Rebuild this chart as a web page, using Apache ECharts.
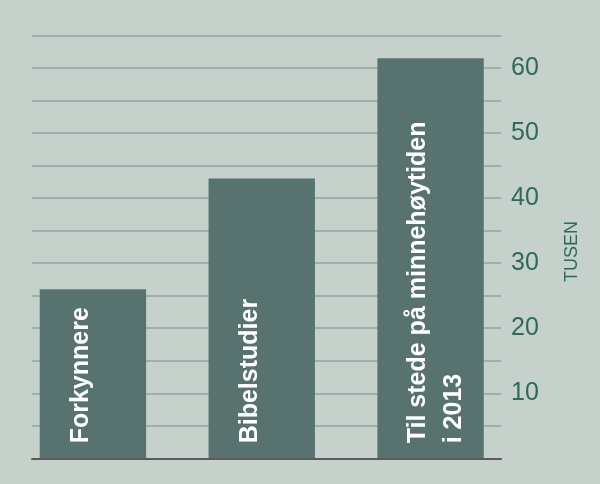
<!DOCTYPE html>
<html><head><meta charset="utf-8">
<script src="https://cdn.jsdelivr.net/npm/echarts@6/dist/echarts.min.js"></script>
<style>html,body{margin:0;padding:0;background:#c6d1cc}#c{width:600px;height:484px}</style>
</head><body><div id="c"></div>
<script>
const categories = ['Forkynnere', 'Bibelstudier', 'Til stede på minnehøytiden\ni 2013'];
const values = [26, 43, 61.5];
const yTickLabels = [10, 20, 30, 40, 50, 60];
const yName = 'TUSEN';
const yMax = 65;

const gridColors = [];
for (let v = 0; v <= yMax; v += 5) gridColors.push(v === yMax ? '#959e9b' : '#88a8a0');

const chart = echarts.init(document.getElementById('c'));
chart.setOption({
  backgroundColor: '#c6d1cc',
  animation: false,
  grid: [
    {left: 8.5, right: 85, top: 35.5, bottom: 25.7},
    {left: 32, right: 99, top: 35.5, bottom: 25.7}
  ],
  xAxis: [
    {type: 'category', data: categories, gridIndex: 0, show: false},
    {type: 'value', gridIndex: 1, min: 0, max: 1, z: 10,
     axisLine: {show: true, onZero: false, lineStyle: {color: '#5b5b5b', width: 2}},
     axisLabel: {show: false}, axisTick: {show: false}, splitLine: {show: false}}
  ],
  yAxis: [
    {type: 'value', gridIndex: 0, min: 0, max: yMax, show: false},
    {type: 'value', gridIndex: 1, min: 0, max: yMax, interval: 5, position: 'right',
     axisLine: {show: false}, axisTick: {show: false},
     splitLine: {show: true, lineStyle: {color: gridColors, width: 1.5}},
     axisLabel: {
       formatter: v => yTickLabels.includes(v) ? String(v) : '',
       color: '#2d6a58', fontSize: 25, margin: 10, fontFamily: '"Liberation Sans", Arial, sans-serif'
     },
     name: yName, nameLocation: 'middle', nameRotate: 90, nameGap: 62,
     nameTextStyle: {color: '#2d6a58', fontSize: 18, padding: [0, 9, 0, 0],
                     fontFamily: '"Liberation Sans", Arial, sans-serif'}
    }
  ],
  series: [{
    type: 'bar', xAxisIndex: 0, yAxisIndex: 0, data: values, barWidth: '63%',
    itemStyle: {color: '#587270'},
    label: {
      show: true, position: 'insideBottom', rotate: 90, align: 'left', verticalAlign: 'top',
      distance: 15, offset: [0, -30], formatter: p => p.name,
      color: '#ffffff', fontFamily: '"Liberation Sans", Arial, sans-serif',
      fontWeight: 'bold', fontSize: 25, lineHeight: 36
    }
  }]
});
</script></body></html>
